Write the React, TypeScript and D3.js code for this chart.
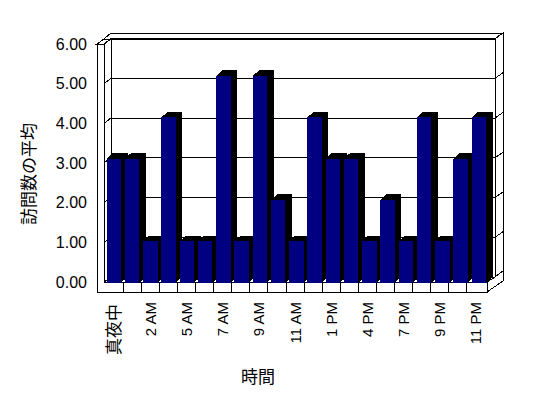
import React from "react";
import * as d3 from "d3";

const categories = ["真夜中","1 AM","2 AM","4 AM","5 AM","6 AM","7 AM","8 AM","9 AM","10 AM","11 AM","12 PM","1 PM","3 PM","4 PM","6 PM","7 PM","8 PM","9 PM","10 PM","11 PM"];
const values = [3,3,1,4,1,1,5,1,5,2,1,4,3,3,1,2,1,4,1,3,4];
const tickValues = [0,1,2,3,4,5,6];
const yTitle = "訪問数の平均";
const xTitle = "時間";

const W = 548, H = 398;
const FONT = "'Liberation Sans', Arial, 'Noto Sans CJK JP', sans-serif";

export default function App() {
  // frame geometry
  const xL = 97, xLi = 104, xB = 111, xR = 495, xRR = 503, xF = 487;
  const yTopF = 44, yTopB = 39, yTopBB = 33, yFloorF = 282, yFloorB = 277, yFloorBot = 292;

  const yFront = d3.scaleLinear().domain([0, 6]).range([yFloorF, yTopF]);
  const yBack = d3.scaleLinear().domain([0, 6]).range([yFloorB, 38.5]);
  const yBar = d3.scaleLinear().domain([0, 6]).range([282.5, 282.5 - 6 * 41.3]);
  const xFloor = d3.scaleBand<string>().domain(categories).range([105.2, 105.2 + 21 * 18.08]);
  const xBar = d3.scaleBand<string>().domain(categories).range([105.2, 105.2 + 21 * 18.25]);
  const barW = 14.5, dx = 6.3, dy = -5.7;

  const pts = (a: number[][]) => a.map(p => p.join(",")).join(" ");
  const fmt = d3.format(".2f");
  const s = { stroke: "#000", strokeWidth: 1, fill: "#fff" };
  const isCJK = (t: string) => /[^\x00-\x7F]/.test(t);

  return (
    <svg width={W} height={H} style={{ position: "absolute", left: 0, top: 0, background: "#fff" }}>
      <g shapeRendering="crispEdges">
        {/* back wall top */}
        <polygon points={pts([[xLi, yTopB], [xR, yTopB], [xRR, yTopBB], [xB, yTopBB]])} {...s} />
        {/* back wall right side */}
        <polygon points={pts([[xR, yTopB], [xRR, yTopBB], [xRR, 271], [xR, yFloorB]])} {...s} />
        {/* back wall front face */}
        <rect x={xB} y={yTopB} width={xR - xB} height={yFloorB - yTopB} {...s} />
        {/* left wall inner face */}
        <polygon points={pts([[xLi, yTopF], [xB, yTopB], [xB, yFloorB], [xLi, yFloorF]])} {...s} />
        {/* left wall top */}
        <polygon points={pts([[xL, yTopF], [xLi, yTopF], [xB, yTopB], [xLi, yTopB]])} {...s} />
        {/* gridlines */}
        {tickValues.map(v => (
          <g key={v}>
            <line x1={xL} x2={xLi} y1={yFront(v)} y2={yFront(v)} stroke="#000" />
            <line x1={xLi} x2={xB} y1={yFront(v)} y2={yBack(v)} stroke="#000" />
            <line x1={xB} x2={xR} y1={yBack(v)} y2={yBack(v)} stroke="#000" />
            <line x1={xR} x2={xRR} y1={yBack(v)} y2={yBack(v) - 5.5} stroke="#000" />
          </g>
        ))}
        {/* floor top */}
        <polygon points={pts([[xLi, yFloorF], [xF, yFloorF], [xR, yFloorB], [xB, yFloorB]])} {...s} />
        {/* floor right side */}
        <polygon points={pts([[xF, yFloorF], [xR, yFloorB], [xRR, 271], [xRR, 281], [xF, yFloorBot]])} {...s} />
        {/* left wall front + floor front */}
        <rect x={xL} y={yTopF} width={xLi - xL} height={yFloorBot - yTopF} {...s} />
        <rect x={xL} y={yFloorF} width={xF - xL} height={yFloorBot - yFloorF} {...s} />
        <line x1={xL + 1} x2={xLi - 0.5} y1={yFloorF} y2={yFloorF} stroke="#fff" />
        {categories.slice(1).map(c => (
          <line key={c} x1={xFloor(c)!} x2={xFloor(c)!} y1={yFloorF} y2={yFloorBot} stroke="#000" />
        ))}
        {/* bars */}
        {categories.map((c, i) => {
          const x = xBar(c)! + 1.5;
          const yt = yBar(values[i]);
          const yb = yBar(0);
          return (
            <g key={c}>
              <polygon points={pts([[x + barW, yt], [x + barW + dx, yt + dy], [x + barW + dx, yb + dy], [x + barW, yb]])} fill="#000" />
              <polygon points={pts([[x, yt], [x + barW, yt], [x + barW + dx, yt + dy], [x + dx, yt + dy]])} fill="#000" />
              <rect x={x} y={yt} width={barW} height={yb - yt} fill="#000080" />
            </g>
          );
        })}
      </g>
      {/* y tick labels */}
      {tickValues.map(v => (
        <text key={v} x={87} y={yFront(v)} textAnchor="end" dominantBaseline="central" fontFamily={FONT} fontSize={16} fill="#000">{fmt(v)}</text>
      ))}
      {/* x tick labels */}
      {categories.map((c, i) => i % 2 === 0 ? (
        <text key={c} transform={`translate(${xFloor(c)! + xFloor.bandwidth() / 2},${isCJK(c) ? 304 : 302}) rotate(-90)`} textAnchor="end" dominantBaseline="central" fontFamily={FONT} fontSize={isCJK(c) ? 17 : 15} fill="#000">{c}</text>
      ) : null)}
      {/* axis titles */}
      <text transform="translate(29,174) rotate(-90)" textAnchor="middle" dominantBaseline="central" fontFamily={FONT} fontSize={17} fill="#000">{yTitle}</text>
      <text x={258} y={377} textAnchor="middle" dominantBaseline="central" fontFamily={FONT} fontSize={17} fill="#000">{xTitle}</text>
    </svg>
  );
}
